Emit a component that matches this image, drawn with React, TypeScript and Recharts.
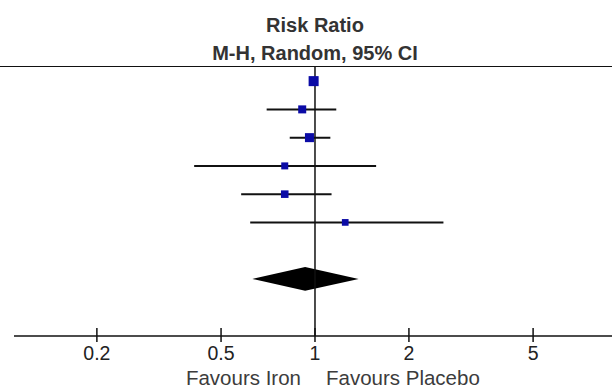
import React from "react";
import {
  ComposedChart,
  XAxis,
  YAxis,
  Scatter,
  Area,
  ReferenceLine,
  Label,
} from "recharts";

// study rows, top to bottom
const rows = [0, 1, 2, 3, 4, 5];
const riskRatio = [0.99, 0.91, 0.96, 0.8, 0.8, 1.25];
const ciLow = [0.96, 0.7, 0.83, 0.41, 0.58, 0.62];
const ciHigh = [1.02, 1.17, 1.12, 1.57, 1.13, 2.58];
const weights = [24.6, 15.7, 19.9, 12.0, 14.0, 11.0];

// pooled estimate (diamond)
const pooledRow = 7;
const pooledRR = 0.93;
const pooledLow = 0.63;
const pooledHigh = 1.38;

const xTicks = [0.2, 0.5, 1, 2, 5];
const xTickLabels = ["0.2", "0.5", "1", "2", "5"];
const leftLabel = "Favours Iron";
const rightLabel = "Favours Placebo";
const title = "Risk Ratio";
const subtitle = "M-H, Random, 95% CI";

const FONT = "'Liberation Sans', Arial, sans-serif";
const INK = "#111";
const BLUE = "#0b0ba6";
const DIAMOND_HALF = 0.42;

const studyPoints = rows.map((r, i) => ({
  x: riskRatio[i],
  row: r,
  weight: weights[i],
}));

const diamond = [
  { x: pooledLow, band: [pooledRow, pooledRow] },
  { x: pooledRR, band: [pooledRow - DIAMOND_HALF, pooledRow + DIAMOND_HALF] },
  { x: pooledHigh, band: [pooledRow, pooledRow] },
];

// square area proportional to study weight
const WeightSquare = (props: any) => {
  const side = 2.02 * Math.sqrt(props.payload.weight);
  return (
    <rect
      x={props.cx - side / 2}
      y={props.cy - side / 2}
      width={side}
      height={side}
      fill={BLUE}
    />
  );
};

const AxisTick = (props: any) => {
  const { x, y, payload } = props;
  const idx = xTicks.indexOf(payload.value);
  return (
    <g>
      <line x1={x} x2={x} y1={y - 8} y2={y + 6} stroke={INK} strokeWidth={1.5} />
      <text x={x} y={y + 24} textAnchor="middle" fontSize={19.5} fill="#222" fontFamily={FONT}>
        {xTickLabels[idx]}
      </text>
      {payload.value === 1 && (
        <g fontSize={20.5} fill="#3c3c3c" fontFamily={FONT}>
          <text x={x - 14} y={y + 49} textAnchor="end">
            {leftLabel}
          </text>
          <text x={x + 11} y={y + 49} textAnchor="start">
            {rightLabel}
          </text>
        </g>
      )}
    </g>
  );
};

const TitleBlock = (props: any) => {
  const { x, y } = props.viewBox;
  return (
    <g fontFamily={FONT} fontWeight="bold" fontSize={20} fill="#333" textAnchor="middle">
      <text x={x} y={y - 35}>
        {title}
      </text>
      <text x={x} y={y - 7}>
        {subtitle}
      </text>
    </g>
  );
};

export default function App() {
  return (
    <div style={{ position: "absolute", left: 0, top: 0, width: 612, height: 388, background: "#fff" }}>
      <div
        style={{
          position: "absolute",
          left: 0,
          top: 66,
          width: 612,
          borderTop: "1.5px solid #111",
        }}
      />
      <ComposedChart
        width={612}
        height={388}
        margin={{ top: 67, right: 0, bottom: 0, left: 14 }}
      >
        <XAxis
          dataKey="x"
          type="number"
          scale="log"
          domain={[0.1085, 8.95]}
          allowDataOverflow
          ticks={xTicks}
          interval={0}
          tickSize={0}
          tickMargin={0}
          tickLine={false}
          tick={<AxisTick />}
          height={52}
          axisLine={{ stroke: INK, strokeWidth: 1.5 }}
        />
        <YAxis
          dataKey="row"
          type="number"
          domain={[-0.5, 9.02]}
          reversed
          hide
          width={0}
        />
        <ReferenceLine x={1} stroke={INK} strokeWidth={1.5}>
          <Label content={<TitleBlock />} />
        </ReferenceLine>
        {rows.map((r, i) => (
          <ReferenceLine
            key={r}
            segment={[
              { x: ciLow[i], y: r },
              { x: ciHigh[i], y: r },
            ]}
            stroke={INK}
            strokeWidth={2}
          />
        ))}
        <Area
          data={diamond}
          dataKey="band"
          type="linear"
          fill="#000"
          fillOpacity={1}
          stroke="none"
          dot={false}
          activeDot={false}
          isAnimationActive={false}
        />
        <Scatter
          data={studyPoints}
          shape={<WeightSquare />}
          isAnimationActive={false}
        />
      </ComposedChart>
    </div>
  );
}
